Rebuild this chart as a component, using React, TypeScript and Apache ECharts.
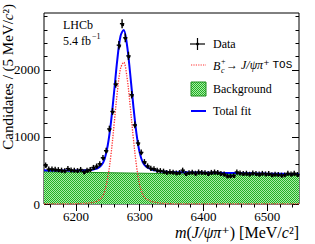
import React, { useEffect, useRef } from "react";
import * as echarts from "echarts";

// ---- axis ranges & ticks ----
const X_MIN = 6150;
const X_MAX = 6550;
const Y_MIN = 0;
const Y_MAX = 2850;
const X_MAJOR = [6200, 6300, 6400, 6500];
const X_MINOR = [6160, 6180, 6220, 6240, 6260, 6280, 6320, 6340, 6360, 6380, 6420, 6440, 6460, 6480, 6520, 6540];
const Y_MAJOR = [0, 1000, 2000];
const Y_MINOR = [200, 400, 600, 800, 1200, 1400, 1600, 1800, 2200, 2400, 2600, 2800];

// ---- data histogram (5 MeV bins starting at 6150) ----
const BIN_START = 6150;
const BIN_WIDTH = 5;
const dataCounts = [
  580, 520, 522, 518, 512, 505, 497, 528, 508, 502,
  498, 515, 482, 505, 515, 545, 565, 600, 690, 795,
  1120, 1380, 1790, 2370, 2690, 2480, 2210, 1630, 1180, 910,
  770, 630, 567, 533, 525, 505, 498, 490, 470, 482,
  475, 465, 470, 505, 455, 468, 475, 460, 478, 472,
  468, 455, 472, 478, 470, 455, 448, 420, 418, 425,
  478, 462, 455, 460, 445, 462, 455, 448, 458, 450,
  455, 438, 445, 440, 432, 435, 458, 448, 460, 442,
];

// ---- fit curves sampled every 5 MeV from 6150 to 6550 ----
const FIT_START = 6150;
const FIT_STEP = 5;
const signalFit = [
  1, 1, 1, 1, 1, 2, 2, 2, 2, 3,
  4, 6, 8, 10, 14, 20, 30, 50, 90, 180,
  390, 730, 1190, 1670, 2020, 2115, 1905, 1480, 995, 575,
  290, 140, 80, 55, 35, 24, 16, 11, 8, 6,
  4, 3, 3, 2, 2, 2, 2, 1, 1, 1,
  1, 1, 1, 1, 1, 1, 1, 1, 1, 1,
  1, 1, 1, 1, 1, 1, 1, 1, 1, 1,
  1, 1, 1, 1, 1, 1, 1, 1, 1, 1,
  1,
];
const totalFit = [
  502, 501, 501, 500, 500, 500, 499, 499, 498, 498,
  499, 500, 501, 502, 506, 511, 520, 539, 578, 668,
  877, 1216, 1675, 2155, 2504, 2598, 2387, 1962, 1476, 1055,
  770, 620, 558, 532, 511, 500, 491, 485, 482, 479,
  476, 475, 474, 474, 473, 472, 471, 471, 470, 469,
  468, 468, 467, 466, 465, 465, 464, 463, 462, 462,
  461, 460, 459, 459, 458, 457, 456, 456, 455, 454,
  453, 453, 452, 451, 450, 450, 449, 448, 447, 447,
  446,
];
// linear background: value at X_MIN and at X_MAX
const backgroundEnds = [482, 422];

const SERIF = "'Liberation Serif', 'DejaVu Serif', serif";
const MONO = "'Liberation Mono', 'DejaVu Sans Mono', monospace";

function makePattern(): any {
  const c = document.createElement("canvas");
  c.width = 2;
  c.height = 2;
  const ctx = c.getContext("2d")!;
  ctx.fillStyle = "#22b022";
  ctx.fillRect(0, 0, 2, 2);
  ctx.fillStyle = "#a8eca8";
  ctx.fillRect(1, 0, 1, 1);
  ctx.fillRect(0, 1, 1, 1);
  return { image: c, repeat: "repeat", imageWidth: 2, imageHeight: 2 };
}

export default function App() {
  const ref = useRef<HTMLDivElement>(null);
  useEffect(() => {
    if (!ref.current) return;
    const chart = echarts.init(ref.current, null, { renderer: "svg" });
    const pattern = makePattern();

    const dataPts = dataCounts.map((v, i) => [BIN_START + BIN_WIDTH * (i + 0.5), v]);
    const sigPts = signalFit.map((v, i) => [FIT_START + FIT_STEP * i, v]);
    const totPts = totalFit.map((v, i) => [FIT_START + FIT_STEP * i, v]);
    const bkgPts = [[X_MIN, backgroundEnds[0]], [X_MAX, backgroundEnds[1]]];

    const tickStyle = { color: "#000", width: 1 };
    const plain = (v: number) => String(v);
    const xAx = (pos: string, vals: number[], len: number, labels: boolean) => ({
      type: "value",
      position: pos,
      min: X_MIN,
      max: X_MAX,
      axisLine: { show: false },
      splitLine: { show: false },
      axisTick: { show: true, inside: true, length: len, lineStyle: tickStyle, customValues: vals },
      axisLabel: labels
        ? { show: true, customValues: vals, formatter: plain, color: "#000", fontSize: 13, fontFamily: SERIF, margin: 6 }
        : { show: false },
    });
    const yAx = (pos: string, vals: number[], len: number, labels: boolean) => ({
      type: "value",
      position: pos,
      min: Y_MIN,
      max: Y_MAX,
      axisLine: { show: false },
      splitLine: { show: false },
      axisTick: { show: true, inside: true, length: len, lineStyle: tickStyle, customValues: vals },
      axisLabel: labels
        ? { show: true, customValues: vals, formatter: plain, color: "#000", fontSize: 13, fontFamily: SERIF, margin: 4 }
        : { show: false },
    });

    const txt = (x: number, y: number, text: string, extra: any = {}) => ({
      type: "text",
      x,
      y,
      silent: true,
      style: { text, fill: "#000", fontSize: 12, fontFamily: SERIF, align: "left", verticalAlign: "middle", ...extra },
    });

    const option: any = {
      animation: false,
      grid: {
        left: 44,
        top: 13,
        right: 16,
        bottom: 40,
        show: true,
        borderColor: "#000",
        borderWidth: 1,
        backgroundColor: "transparent",
        containLabel: false,
        outerBoundsMode: "none",
      },
      xAxis: [
        xAx("bottom", X_MAJOR, 7, true),
        xAx("bottom", X_MINOR, 3.5, false),
        xAx("top", X_MAJOR, 7, false),
        xAx("top", X_MINOR, 3.5, false),
      ],
      yAxis: [
        yAx("left", Y_MAJOR, 7, true),
        yAx("left", Y_MINOR, 3.5, false),
        yAx("right", Y_MAJOR, 7, false),
        yAx("right", Y_MINOR, 3.5, false),
      ],
      series: [
        {
          type: "line",
          data: bkgPts,
          showSymbol: false,
          symbol: "none",
          lineStyle: { color: "#1d8f1d", width: 1 },
          areaStyle: { color: pattern, opacity: 1 },
          z: 1,
          silent: true,
        },
        {
          type: "line",
          data: sigPts,
          smooth: 0.35,
          symbol: "none",
          lineStyle: { color: "#ff3030", width: 1.3, type: "dotted" },
          z: 2,
          silent: true,
        },
        {
          type: "line",
          data: totPts,
          smooth: 0.35,
          symbol: "none",
          lineStyle: { color: "#0000ff", width: 2 },
          z: 3,
          silent: true,
        },
        {
          type: "custom",
          data: dataPts,
          z: 4,
          silent: true,
          encode: { x: 0, y: 1 },
          renderItem: (_p: any, api: any) => {
            const x = api.value(0);
            const y = api.value(1);
            const e = Math.sqrt(y);
            const c = api.coord([x, y]);
            const t = api.coord([x, y + e]);
            const b = api.coord([x, y - e]);
            const l = api.coord([x - BIN_WIDTH / 2, y]);
            const r = api.coord([x + BIN_WIDTH / 2, y]);
            const st = { stroke: "#000", lineWidth: 1.4 };
            return {
              type: "group",
              children: [
                { type: "line", shape: { x1: c[0], y1: t[1] - 1, x2: c[0], y2: b[1] + 1 }, style: st },
                { type: "line", shape: { x1: l[0] - 0.6, y1: c[1], x2: r[0] + 0.6, y2: c[1] }, style: st },
                { type: "circle", shape: { cx: c[0], cy: c[1], r: 1.5 }, style: { fill: "#000" } },
              ],
            };
          },
        },
      ],
      graphic: [
        // LHCb label
        txt(63, 25, "LHCb"),
        txt(63, 41, "5.4 fb"),
        txt(92, 36, "−1", { fontSize: 8 }),
        // Legend: Data
        { type: "line", shape: { x1: 190, y1: 44, x2: 205, y2: 44 }, style: { stroke: "#000", lineWidth: 1.2 } },
        { type: "line", shape: { x1: 197.5, y1: 38, x2: 197.5, y2: 50 }, style: { stroke: "#000", lineWidth: 1.2 } },
        { type: "circle", shape: { cx: 197.5, cy: 44, r: 1.4 }, style: { fill: "#000" } },
        txt(213, 44, "Data"),
        // Legend: signal
        { type: "line", shape: { x1: 191, y1: 65, x2: 206, y2: 65 }, style: { stroke: "#ff3030", lineWidth: 1.2, lineDash: [1.2, 1.2] } },
        txt(213, 66, "B", { fontStyle: "italic" }),
        txt(221, 61, "+", { fontSize: 8 }),
        txt(221, 70, "c", { fontSize: 8, fontStyle: "italic" }),
        txt(226, 65, "{n|→ }{i|J/ψπ}{n|⁺ }{m|TOS}", {
          rich: {
            n: { fontSize: 12, fontFamily: SERIF, fill: "#000" },
            i: { fontSize: 12, fontFamily: SERIF, fontStyle: "italic", fill: "#000" },
            m: { fontSize: 11, fontFamily: MONO, fill: "#000" },
          },
        }),
        // Legend: background
        { type: "rect", shape: { x: 191, y: 82, width: 15, height: 14 }, style: { fill: pattern, stroke: "#1d8f1d", lineWidth: 1 } },
        txt(213, 89, "Background"),
        // Legend: total fit
        { type: "line", shape: { x1: 191, y1: 111, x2: 206, y2: 111 }, style: { stroke: "#0000ff", lineWidth: 2 } },
        txt(213, 111, "Total fit"),
        // x-axis title
        {
          type: "text",
          x: 299,
          y: 232,
          silent: true,
          style: {
            text: "{i|m}{n|(}{i|J/ψπ}{n|⁺) [MeV/}{i|c}{n|²]}",
            align: "right",
            verticalAlign: "middle",
            fill: "#000",
            rich: {
              n: { fontSize: 16, fontFamily: SERIF, fill: "#000" },
              i: { fontSize: 16, fontFamily: SERIF, fontStyle: "italic", fill: "#000" },
            },
          },
        },
        // y-axis title
        {
          type: "text",
          x: 8,
          y: 4,
          rotation: Math.PI / 2,
          silent: true,
          style: {
            text: "{n|Candidates / (5 MeV/}{i|c}{n|²)}",
            align: "right",
            verticalAlign: "middle",
            fill: "#000",
            rich: {
              n: { fontSize: 15, fontFamily: SERIF, fill: "#000" },
              i: { fontSize: 15, fontFamily: SERIF, fontStyle: "italic", fill: "#000" },
            },
          },
        },
      ],
    };
    chart.setOption(option);
    return () => chart.dispose();
  }, []);
  return (
    <div
      ref={ref}
      style={{ position: "fixed", left: 0, top: 0, width: 315, height: 244, background: "#fff" }}
    />
  );
}
